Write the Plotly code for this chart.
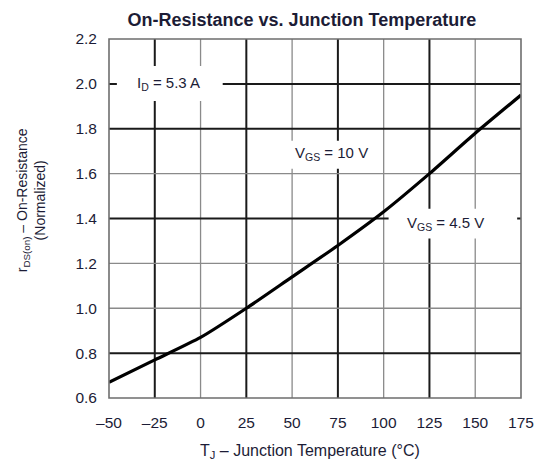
import plotly.graph_objects as go

# Normalized on-resistance vs. junction temperature
temp_c = [-50, -25, 0, 25, 50, 75, 100, 125, 150, 175]
r_norm = [0.67, 0.77, 0.87, 1.00, 1.14, 1.28, 1.43, 1.60, 1.78, 1.95]

x_ticks = [-50, -25, 0, 25, 50, 75, 100, 125, 150, 175]
x_ticktext = ["\u201350", "\u201325", "0", "25", "50", "75", "100", "125", "150", "175"]
y_ticks = [0.6, 0.8, 1.0, 1.2, 1.4, 1.6, 1.8, 2.0, 2.2]
y_ticktext = ["0.6", "0.8", "1.0", "1.2", "1.4", "1.6", "1.8", "2.0", "2.2"]

# gridline weights (dark / light)
x_grid = [(-25, "dark"), (0, "light"), (25, "dark"), (50, "light"), (75, "dark"),
          (100, "light"), (125, "dark"), (150, "light")]
y_grid = [(0.8, "dark"), (1.0, "light"), (1.2, "light"), (1.4, "dark"),
          (1.6, "light"), (1.8, "dark"), (2.0, "dark")]
grid_style = {"dark": dict(color="#1a1a1a", width=2), "light": dict(color="#8a8a8a", width=1.3)}

# condition labels: (text, x, y, white-box extents)
labels = [
    ("I<sub>D</sub> = 5.3 A", -17.6, 2.0, (-45.7, 12.1, 1.924, 2.08)),
    ("V<sub>GS</sub> = 10 V", 71.4, 1.689, (44.4, 98.4, 1.622, 1.747)),
    ("V<sub>GS</sub> = 4.5 V", 134.0, 1.378, (102.7, 172.9, 1.311, 1.444)),
]

XMIN, XMAX, YMIN, YMAX = -50, 175, 0.6, 2.2
text_color = "#1c1c36"
font_family = "Liberation Sans, Arial, sans-serif"

fig = go.Figure()

fig.add_trace(go.Scatter(
    x=temp_c, y=r_norm, mode="lines",
    line=dict(color="black", width=3.2, shape="spline", smoothing=0.6),
    hoverinfo="skip", showlegend=False,
))

shapes = []
for xv, kind in x_grid:
    shapes.append(dict(type="line", xref="x", yref="y", x0=xv, x1=xv, y0=YMIN, y1=YMAX,
                       line=grid_style[kind], layer="below"))
for yv, kind in y_grid:
    shapes.append(dict(type="line", xref="x", yref="y", x0=XMIN, x1=XMAX, y0=yv, y1=yv,
                       line=grid_style[kind], layer="below"))
for _, _, _, (bx0, bx1, by0, by1) in labels:
    shapes.append(dict(type="rect", xref="x", yref="y", x0=bx0, x1=bx1, y0=by0, y1=by1,
                       fillcolor="white", line=dict(width=0), layer="below"))
# plot frame
shapes.append(dict(type="rect", xref="paper", yref="paper", x0=0, x1=1, y0=0, y1=1,
                   line=dict(color="#6e6e6e", width=1.6), layer="above"))

annotations = []
for text, ax, ay, _ in labels:
    annotations.append(dict(text=text, x=ax, y=ay, xref="x", yref="y", showarrow=False,
                            font=dict(size=15, color=text_color, family=font_family)))

annotations.append(dict(
    text="r<sub>DS(on)</sub> \u2013 On-Resistance<br>(Normalized)",
    xref="paper", yref="paper", x=-0.19, y=0.55, xanchor="center", yanchor="middle",
    textangle=-90, showarrow=False,
    font=dict(size=14, color=text_color, family=font_family),
))
annotations.append(dict(
    text="T<sub>J</sub> \u2013 Junction Temperature (\u00b0C)",
    xref="paper", yref="paper", x=0.488, y=-0.15, showarrow=False,
    xanchor="center", yanchor="middle",
    font=dict(size=16, color=text_color, family=font_family),
))

fig.update_layout(
    width=546, height=468,
    margin=dict(l=109, r=19, t=39, b=70),
    paper_bgcolor="white", plot_bgcolor="white",
    title=dict(text="<b>On-Resistance vs. Junction Temperature</b>",
               xref="container", yref="container", x=0.553, y=1 - 20 / 468,
               xanchor="center", yanchor="middle",
               font=dict(size=18, color=text_color, family=font_family)),
    xaxis=dict(range=[XMIN, XMAX], tickvals=x_ticks, ticktext=x_ticktext,
               showgrid=False, zeroline=False, showline=False, ticks="",
               ticklabelstandoff=13,
               tickfont=dict(size=15.5, color=text_color, family=font_family)),
    yaxis=dict(range=[YMIN, YMAX], tickvals=y_ticks, ticktext=y_ticktext,
               showgrid=False, zeroline=False, showline=False, ticks="",
               ticklabelstandoff=11,
               tickfont=dict(size=15.5, color=text_color, family=font_family)),
    shapes=shapes, annotations=annotations,
)

fig.write_html("out.html")
